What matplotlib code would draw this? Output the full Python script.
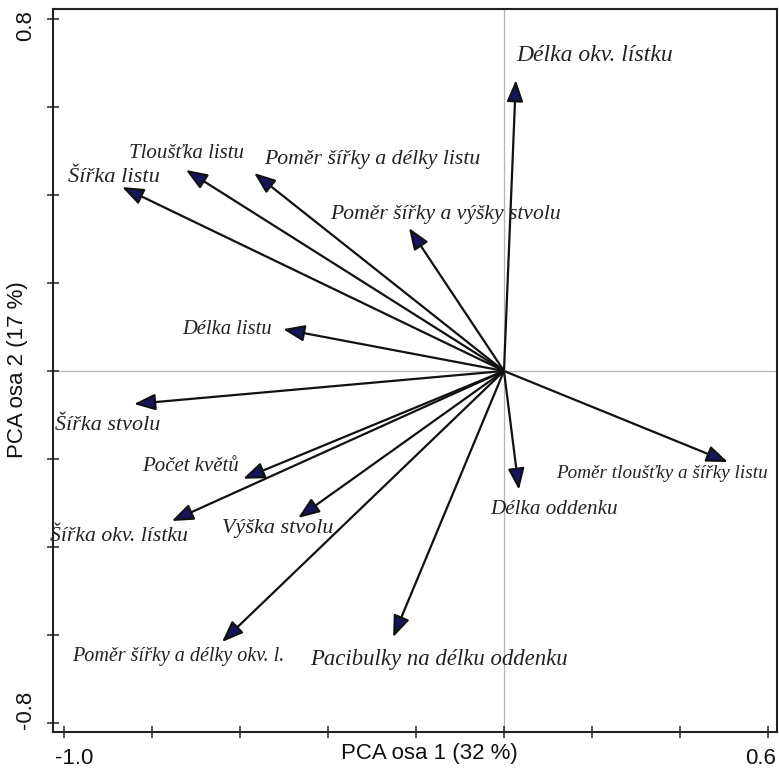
import numpy as np
import matplotlib.pyplot as plt

### Data: PCA loadings (arrow tips) and variable names
names = [
    "Délka okv. lístku",
    "Šířka listu",
    "Tloušťka listu",
    "Poměr šířky a délky listu",
    "Poměr šířky a výšky stvolu",
    "Délka listu",
    "Šířka stvolu",
    "Počet květů",
    "Šířka okv. lístku",
    "Výška stvolu",
    "Poměr šířky a délky okv. l.",
    "Pacibulky na délku oddenku",
    "Délka oddenku",
    "Poměr tloušťky a šířky listu",
]
pc1 = [0.027, -0.868, -0.723, -0.568, -0.216, -0.502, -0.841,
       -0.593, -0.755, -0.468, -0.641, -0.252, 0.034, 0.509]
pc2 = [0.661, 0.418, 0.457, 0.450, 0.325, 0.095, -0.075,
       -0.245, -0.341, -0.334, -0.616, -0.605, -0.270, -0.207]

xticks = np.arange(-1.0, 0.61, 0.2)
yticks = np.arange(-0.8, 0.81, 0.2)

### Layout: label anchor (left, centre) in data units, font size
label_xy = [(0.027, 0.718), (-0.991, 0.439), (-0.852, 0.495), (-0.545, 0.480),
            (-0.395, 0.355), (-0.732, 0.095), (-1.020, -0.125), (-0.823, -0.218),
            (-1.032, -0.377), (-0.641, -0.357), (-0.982, -0.650), (-0.441, -0.655),
            (-0.032, -0.314), (0.118, -0.232)]
label_fs = [17, 16.2, 15, 15.7, 15.6, 14.8, 15.9, 15, 15.7, 15.9, 14.5, 16.4, 15.2, 13.8]

fig = plt.figure(figsize=(7.79, 7.76), dpi=100)
ax = fig.add_axes([53 / 779, 44 / 776, 724 / 779, 723 / 776])

ax.set_xlim(-1.025, 0.6205)
ax.set_ylim(-0.8205, 0.8227)

ax.axhline(0, color="#b4b4b4", lw=0.9, zorder=0)
ax.axvline(0, color="#b4b4b4", lw=0.9, zorder=0)

for i in range(len(names)):
    ax.annotate("", xy=(pc1[i], pc2[i]), xytext=(0, 0),
                arrowprops=dict(arrowstyle="-|>,head_length=0.65,head_width=0.25",
                                mutation_scale=20, shrinkA=0, shrinkB=0,
                                facecolor="#15155c", edgecolor="#111111", lw=1.6))
    ax.text(label_xy[i][0], label_xy[i][1], names[i], ha="left", va="center",
            fontsize=label_fs[i], family="Liberation Serif", style="italic",
            color="#222222", clip_on=False)

ax.set_xticks(xticks)
ax.set_yticks(yticks)
ax.set_xticklabels([])
ax.set_yticklabels([])
ax.tick_params(direction="inout", length=8, width=1.1, color="#222222")
for sp in ax.spines.values():
    sp.set_linewidth(1.5)
    sp.set_color("#222222")

# end tick labels only, as in the original
tick_kw = dict(ha="center", va="center", fontsize=16, family="Liberation Sans", color="#111111")
fig.text(74 / 779, 1 - 758 / 776, "-1.0", **tick_kw)
fig.text(761 / 779, 1 - 758 / 776, "0.6", **tick_kw)
fig.text(26 / 779, 1 - 26 / 776, "0.8", rotation=90, **tick_kw)
fig.text(26 / 779, 1 - 710 / 776, "-0.8", rotation=90, **tick_kw)

fig.text(429 / 779, 1 - 754 / 776, "PCA osa 1 (32 %)", ha="center", va="center",
         fontsize=16, family="Liberation Sans", color="#111111")
fig.text(18 / 779, 1 - 370 / 776, "PCA osa 2 (17 %)", ha="center", va="center",
         rotation=90, fontsize=16, family="Liberation Sans", color="#111111")

fig.savefig("out.png", dpi=100)
